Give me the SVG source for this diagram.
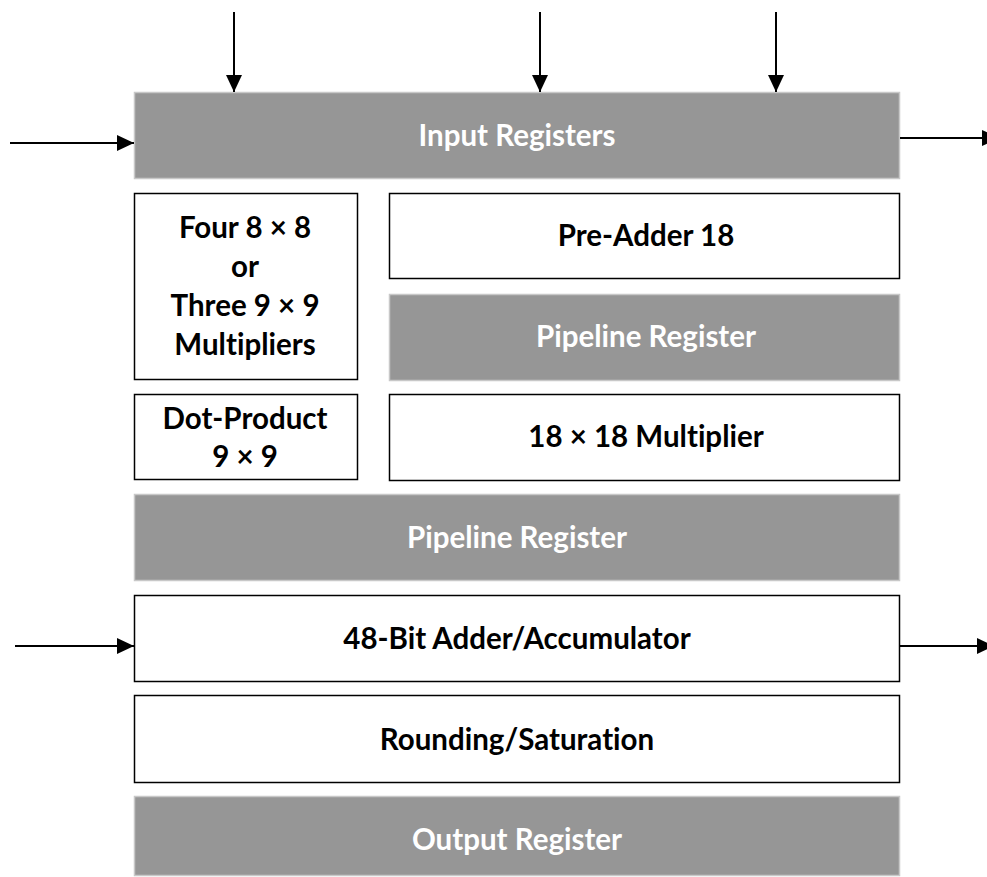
<svg xmlns="http://www.w3.org/2000/svg" width="987" height="877" viewBox="0 0 987 877">
<defs>
<marker id="ah" markerWidth="17" markerHeight="16" refX="17" refY="8" orient="auto" markerUnits="userSpaceOnUse" viewBox="0 0 17 16">
<path d="M0,0 L17,8 L0,16 z" fill="#000"/>
</marker>
<style>
.g{fill:#969696;stroke:#c8c8c8;stroke-width:1.5}
.w{fill:#fff;stroke:#000;stroke-width:1.5}
text{font-family:Lato,"Liberation Sans",sans-serif;font-weight:bold;font-size:29.5px;text-anchor:middle;font-variant-ligatures:none}
.tw{fill:#fff}
.tb{fill:#000}
.c{stroke:#000;stroke-width:2;fill:none;marker-end:url(#ah)}
</style>
</defs>
<rect width="987" height="877" fill="#fff"/>
<g id="input-registers"><rect class="g" x="134.5" y="92.5" width="765" height="86"/><text class="tw" x="517" y="146">Input Registers</text></g>
<g id="small-multipliers"><rect class="w" x="134.5" y="193.5" width="223" height="186"/>
<text class="tb" x="245" y="238">Four 8 × 8</text><text class="tb" x="245" y="277">or</text><text class="tb" x="245" y="316">Three 9 × 9</text><text class="tb" x="245" y="355">Multipliers</text></g>
<g id="dot-product"><rect class="w" x="134.5" y="394.5" width="223" height="85"/><text class="tb" x="245" y="429">Dot-Product</text><text class="tb" x="245" y="467">9 × 9</text></g>
<g id="pre-adder"><rect class="w" x="389.5" y="193.5" width="510" height="85"/><text class="tb" x="646" y="246">Pre-Adder 18</text></g>
<g id="pipeline-register-1"><rect class="g" x="389.5" y="294.5" width="510" height="86"/><text class="tw" x="646" y="347">Pipeline Register</text></g>
<g id="multiplier-18x18"><rect class="w" x="389.5" y="394.5" width="510" height="86"/><text class="tb" x="646" y="447">18 × 18 Multiplier</text></g>
<g id="pipeline-register-2"><rect class="g" x="134.5" y="494.5" width="765" height="86"/><text class="tw" x="517" y="548">Pipeline Register</text></g>
<g id="adder-accumulator"><rect class="w" x="134.5" y="595.5" width="765" height="86"/><text class="tb" x="517" y="649">48-Bit Adder/Accumulator</text></g>
<g id="rounding-saturation"><rect class="w" x="134.5" y="695.5" width="765" height="87"/><text class="tb" x="517" y="750">Rounding/Saturation</text></g>
<g id="output-register"><rect class="g" x="134.5" y="796.5" width="765" height="79"/><text class="tw" x="517" y="850">Output Register</text></g>
<g id="connectors">
<line class="c" x1="234" y1="12" x2="234" y2="92"/>
<line class="c" x1="540" y1="12" x2="540" y2="92"/>
<line class="c" x1="776" y1="12" x2="776" y2="92"/>
<line class="c" x1="10" y1="143" x2="134" y2="143"/>
<line class="c" x1="900" y1="138" x2="999" y2="138"/>
<line class="c" x1="15" y1="646" x2="134" y2="646"/>
<line class="c" x1="900" y1="646" x2="994" y2="646"/>
</g>
</svg>
